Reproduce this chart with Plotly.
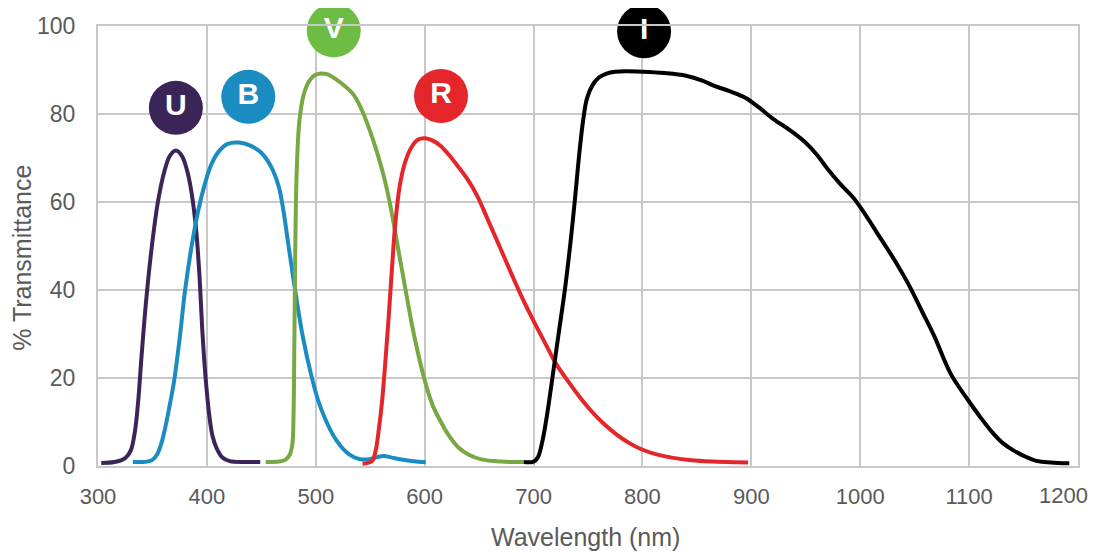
import plotly.graph_objects as go

# ---- data ----
U_x = [303, 315, 325, 330, 334, 337, 340, 344, 349, 355, 361, 366, 371.5, 377, 382, 386, 390, 393, 396, 399, 402, 405, 409, 414, 421, 435, 449]
U_y = [0.7, 0.9, 1.8, 3.5, 8, 15, 25, 37, 49, 60, 67, 70.5, 71.7, 70.5, 67, 62, 54, 44, 30, 19.5, 11.9, 7, 4, 2, 1.1, 0.9, 0.9]

B_x = [332, 345, 350, 354, 358, 362, 366, 370, 375, 380, 386, 392, 398, 404, 411, 419, 429.5, 440, 449.5, 456, 461, 466, 470, 475, 481, 488, 495, 502, 509, 516, 523, 531, 540, 548, 556, 562.5, 570, 580, 590, 601]
B_y = [0.9, 1.0, 1.4, 2.5, 5, 9, 14, 19.5, 29, 40, 50, 58, 64, 68.5, 71.5, 73.2, 73.5, 72.8, 71.3, 69.3, 67, 63.5, 58.5, 50, 40, 29.5, 21.5, 15, 10.5, 7, 4.5, 2.6, 1.6, 1.5, 2.0, 2.3, 1.9, 1.4, 1.1, 0.9]

V_x = [454, 466, 472, 476, 478.5, 479.6, 480.4, 481.2, 482.5, 485, 489, 494, 499, 504.5, 511, 518, 526, 535, 543, 550, 556, 562, 567, 572, 577, 582.5, 588, 594, 600, 607, 614.5, 622, 631, 641, 652, 670, 691]
V_y = [0.9, 1.0, 1.4, 2.5, 5, 12, 30, 50, 67, 78.5, 84.5, 87.5, 88.8, 89.2, 89, 88, 86.5, 84.3, 80.5, 76, 71.5, 66.3, 61, 54.5, 47.5, 40, 32.5, 25.5, 19.5, 14, 10.2, 7, 4.2, 2.5, 1.5, 1.0, 0.9]

R_x = [543, 548, 552, 555, 558, 561, 564, 567, 570, 573, 577, 582, 588, 594, 600.5, 607, 614.5, 622, 630, 639, 648, 658, 669.5, 680, 690, 700, 710.5, 720, 731, 742, 753, 764, 776, 788, 799, 812, 827, 845, 865, 885, 897]
R_y = [0.5, 0.7, 1.2, 3.5, 8.5, 15, 24, 34, 45, 55, 63.5, 69, 72.5, 74.2, 74.5, 74, 72.8, 70.8, 68.3, 65.3, 61.5, 56, 49.5, 43.5, 38, 33, 28, 23.5, 19.5, 15.8, 12.5, 9.7, 7.2, 5.2, 3.8, 2.7, 1.9, 1.3, 1.0, 0.85, 0.8]

I_x = [691, 700, 704, 708, 712, 717, 723, 729, 734, 738, 742, 745.5, 749, 754, 760, 767, 775, 785, 800, 820, 840, 855, 866, 880, 894.5, 907, 920, 935, 949, 960, 971, 982, 993.5, 1005, 1018, 1031, 1045, 1057, 1068, 1083, 1099, 1110, 1121.5, 1131, 1141, 1152, 1163, 1175, 1192]
I_y = [0.9, 1.0, 2, 5.5, 11, 19.5, 30, 40.5, 51, 60.6, 71, 78.5, 83.5, 86.5, 88.3, 89.2, 89.6, 89.7, 89.6, 89.3, 88.7, 87.6, 86.4, 85.2, 83.7, 81.5, 78.9, 76.4, 73.7, 70.8, 67.2, 64, 61, 57, 52, 47, 41, 35, 29.5, 21, 15, 11.2, 7.6, 5.2, 3.5, 2.1, 1.1, 0.8, 0.6]

label_names = ["U", "B", "V", "R", "I"]
label_x = [371.5, 438, 516.5, 615, 801.5]
label_y = [81.4, 83.9, 99.0, 84.1, 98.8]

x_ticks = [300, 400, 500, 600, 700, 800, 900, 1000, 1100, 1200]
x_tick_text = ["300", "400", "500", "600", "700", "800", "900", "1000", "1100", "1200"]
y_ticks = [0, 20, 40, 60, 80, 100]

# ---- styles ----
line_colors = {"U": "#3b2458", "B": "#1b8cc2", "V": "#77a843", "R": "#e4262b", "I": "#000000"}
circle_colors = ["#3b2458", "#1b8cc2", "#6dbd45", "#e4262b", "#000000"]
GRID = "#c8c8c8"
TXT = "#5a5a5a"
FONT = "Liberation Sans, Arial, sans-serif"

fig = go.Figure()
for name, xs, ys in [("U", U_x, U_y), ("B", B_x, B_y), ("V", V_x, V_y), ("R", R_x, R_y), ("I", I_x, I_y)]:
    fig.add_trace(go.Scatter(
        x=xs, y=ys, mode="lines", name=name,
        line=dict(color=line_colors[name], width=4, shape="spline", smoothing=1.0),
        cliponaxis=False, showlegend=False, hoverinfo="skip",
    ))

fig.add_trace(go.Scatter(
    x=label_x, y=label_y, mode="markers+text", text=label_names,
    textposition="middle center",
    marker=dict(size=54, color=circle_colors, line=dict(width=0)),
    textfont=dict(family=FONT, size=30, color="white", weight="bold"),
    cliponaxis=False, showlegend=False, hoverinfo="skip",
))

# the last tick label sits at the very edge of the page: draw it as an annotation nudged inward
axis_tick_text = x_tick_text[:-1] + [""]

fig.update_xaxes(
    range=[300, 1200], tickvals=x_ticks, ticktext=axis_tick_text,
    showgrid=True, gridcolor=GRID, gridwidth=2,
    showline=True, linecolor=GRID, linewidth=2, mirror=True, zeroline=False,
    ticks="", ticklabelstandoff=10, ticklabeloverflow="allow", automargin=False,
    tickfont=dict(family=FONT, size=22, color=TXT),
)
fig.update_yaxes(
    range=[0, 100], tickvals=y_ticks, showgrid=True, gridcolor=GRID, gridwidth=2,
    showline=True, linecolor=GRID, linewidth=2, mirror=True, zeroline=False,
    ticks="", ticklabelstandoff=16, ticklabeloverflow="allow", automargin=False,
    tickfont=dict(family=FONT, size=23, color=TXT),
)

# the page body adds an 8px offset; margins are set so the plot lands where the reference has it
fig.update_layout(
    width=1097, height=553,
    margin=dict(l=90, r=27, t=18, b=95, autoexpand=False),
    paper_bgcolor="white", plot_bgcolor="white",
    annotations=[
        dict(text="% Transmittance", xref="paper", yref="paper",
             x=-0.0776, y=0.473, xanchor="center", yanchor="middle",
             textangle=-90, showarrow=False,
             font=dict(family=FONT, size=25, color=TXT)),
        dict(text="Wavelength (nm)", xref="paper", yref="paper",
             x=0.497, y=-0.161, xanchor="center", yanchor="middle",
             showarrow=False,
             font=dict(family=FONT, size=25, color=TXT)),
        dict(text=x_tick_text[-1], xref="x", yref="paper",
             x=x_ticks[-1], y=-0.068, xanchor="center", yanchor="middle",
             xshift=-15, showarrow=False,
             font=dict(family=FONT, size=22, color=TXT)),
    ],
)

fig.write_html("out.html")
